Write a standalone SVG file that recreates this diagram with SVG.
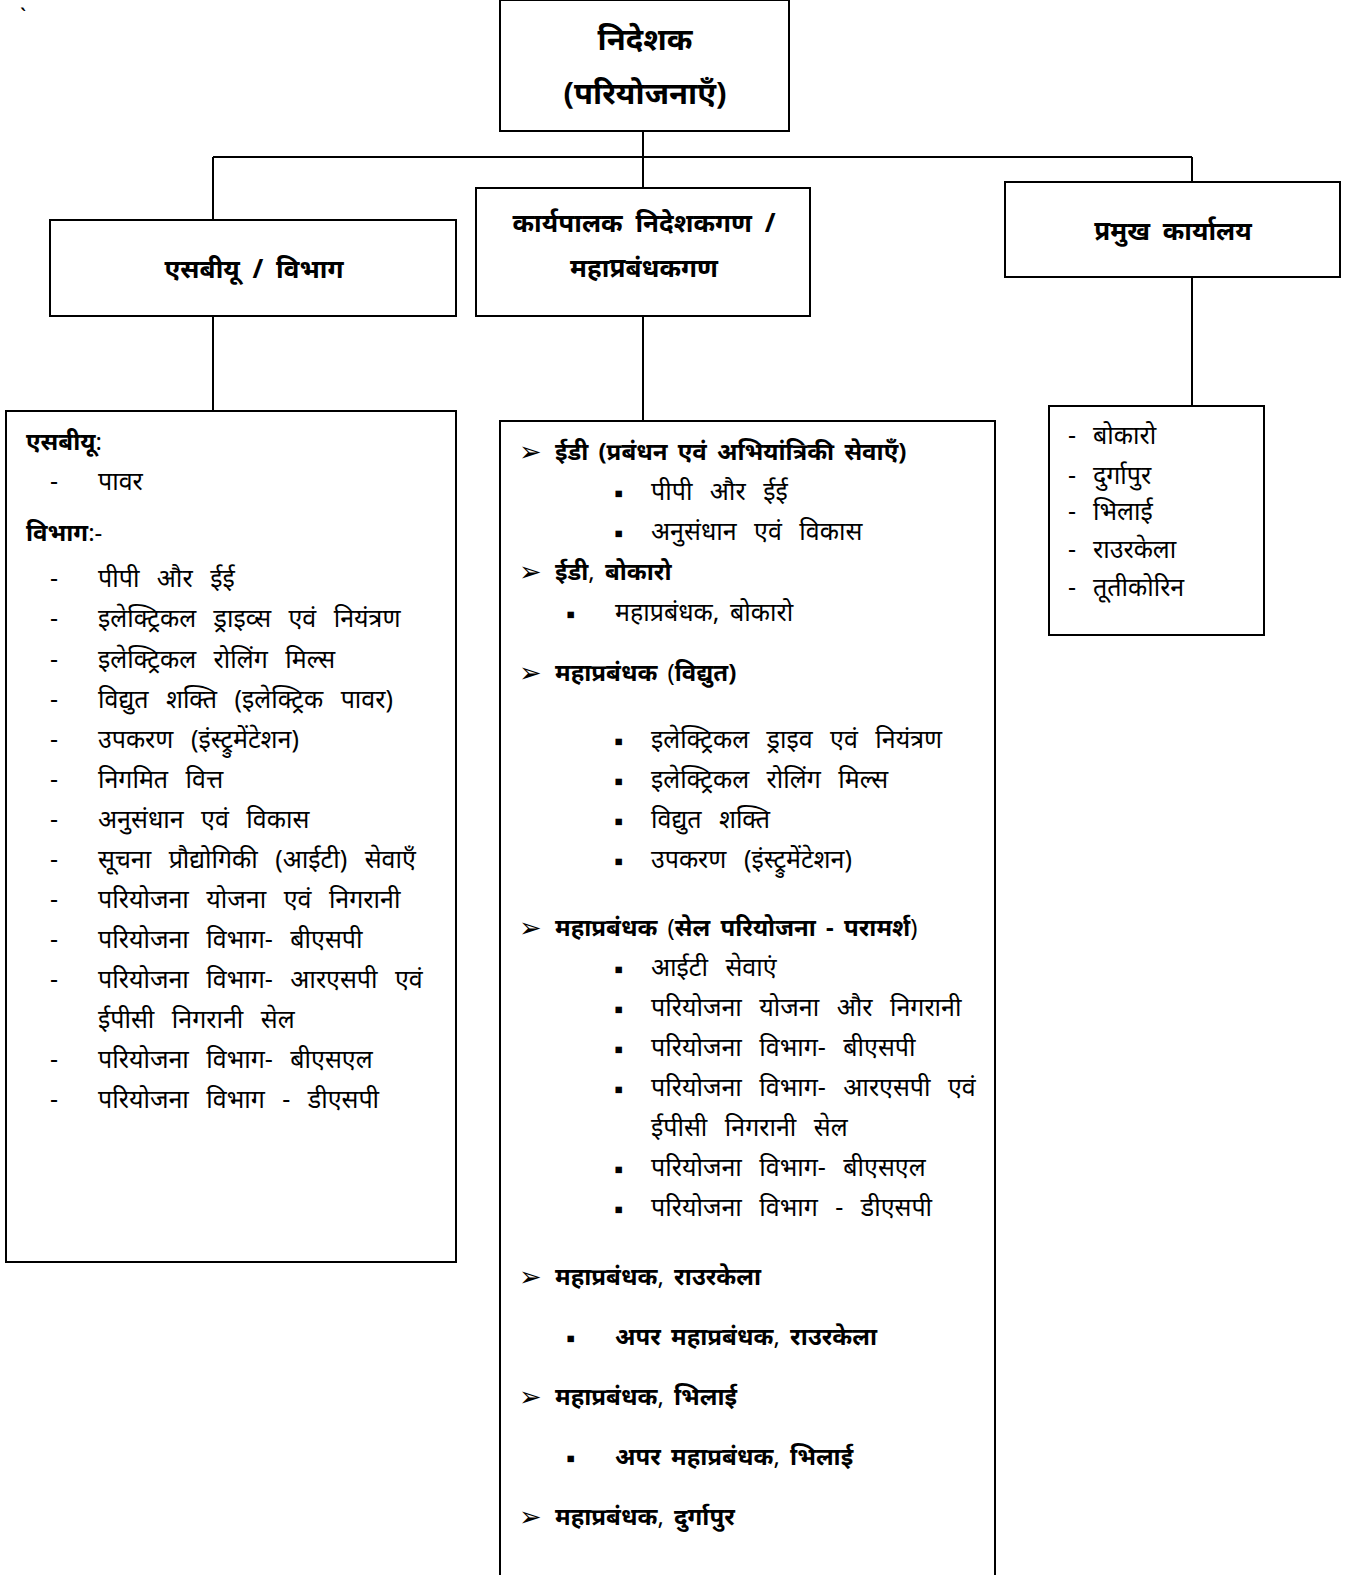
<svg xmlns="http://www.w3.org/2000/svg" width="1354" height="1575" viewBox="0 0 1354 1575">
<style>
.box{fill:#fff;stroke:#000;stroke-width:2}
.ln{fill:none;stroke:#000;stroke-width:2}
text{font-family:"Noto Sans","Noto Sans Devanagari","Lohit Devanagari",sans-serif;fill:#000}
.h{font-weight:bold;font-size:31px;text-anchor:middle}
.h2{font-weight:bold;font-size:26px;text-anchor:middle;word-spacing:6px}
.t{font-size:25px;word-spacing:11px}
.b{font-size:24px;font-weight:bold;word-spacing:4px}
.sym{font-family:"DejaVu Sans",sans-serif;font-size:27px}
.sq{font-family:"DejaVu Sans",sans-serif;font-size:26px}
</style>
<rect width="1354" height="1575" fill="#fff"/>
<text x="20" y="24" style="font-size:22px">`</text>
<g id="connectors">
<path class="ln" d="M643 131V188M213 157H1192M213 157V220M1192 157V182M213 316V411M643 316V421M1192 277V410"/>
</g>
<g id="director">
<rect class="box" x="500" y="0" width="289" height="131"/>
<text x="645" y="50" class="h">निदेशक</text>
<text x="645" y="104" class="h">(परियोजनाएँ)</text>
</g>
<g id="sbu">
<rect class="box" x="50" y="220" width="406" height="96"/>
<text x="254" y="278" class="h2">एसबीयू / विभाग</text>
</g>
<g id="ed">
<rect class="box" x="476" y="188" width="334" height="128"/>
<text x="644" y="232" class="h2">कार्यपालक निदेशकगण /</text>
<text x="644" y="277" class="h2">महाप्रबंधकगण</text>
</g>
<g id="ho">
<rect class="box" x="1005" y="182" width="335" height="95"/>
<text x="1173" y="240" class="h2">प्रमुख कार्यालय</text>
</g>
<g id="sbu-list">
<rect class="box" x="6" y="411" width="450" height="851"/>
<text x="26" y="450" class="b">एसबीयू<tspan font-weight="normal">:</tspan></text>
<text x="50" y="490" class="t">-</text><text x="98" y="490" class="t">पावर</text>
<text x="26" y="541" class="b">विभाग<tspan font-weight="normal">:-</tspan></text>
<g class="t">
<text x="50" y="587">-</text><text x="98" y="587">पीपी और ईई</text>
<text x="50" y="627">-</text><text x="98" y="627">इलेक्ट्रिकल ड्राइव्स एवं नियंत्रण</text>
<text x="50" y="668">-</text><text x="98" y="668">इलेक्ट्रिकल रोलिंग मिल्स</text>
<text x="50" y="708">-</text><text x="98" y="708">विद्युत शक्ति (इलेक्ट्रिक पावर)</text>
<text x="50" y="748">-</text><text x="98" y="748">उपकरण (इंस्ट्रुमेंटेशन)</text>
<text x="50" y="788">-</text><text x="98" y="788">निगमित वित्त</text>
<text x="50" y="828">-</text><text x="98" y="828">अनुसंधान एवं विकास</text>
<text x="50" y="868">-</text><text x="98" y="868">सूचना प्रौद्योगिकी (आईटी) सेवाएँ</text>
<text x="50" y="908">-</text><text x="98" y="908">परियोजना योजना एवं निगरानी</text>
<text x="50" y="948">-</text><text x="98" y="948">परियोजना विभाग- बीएसपी</text>
<text x="50" y="988">-</text><text x="98" y="988">परियोजना विभाग- आरएसपी एवं</text>
<text x="98" y="1028">ईपीसी निगरानी सेल</text>
<text x="50" y="1068">-</text><text x="98" y="1068">परियोजना विभाग- बीएसएल</text>
<text x="50" y="1108">-</text><text x="98" y="1108">परियोजना विभाग - डीएसपी</text>
</g>
</g>
<g id="ed-list">
<rect class="box" x="500" y="421" width="495" height="1170"/>
<g class="sym">
<text x="519" y="461">➢</text><text x="519" y="581">➢</text><text x="519" y="682">➢</text><text x="519" y="937">➢</text>
<text x="519" y="1286">➢</text><text x="519" y="1406">➢</text><text x="519" y="1526">➢</text>
</g>
<g class="sq">
<text x="614" y="502">▪</text><text x="614" y="542">▪</text><text x="566" y="623">▪</text>
<text x="614" y="750">▪</text><text x="614" y="790">▪</text><text x="614" y="830">▪</text><text x="614" y="870">▪</text>
<text x="614" y="978">▪</text><text x="614" y="1018">▪</text><text x="614" y="1058">▪</text><text x="614" y="1098">▪</text><text x="614" y="1178">▪</text><text x="614" y="1218">▪</text>
<text x="566" y="1347">▪</text><text x="566" y="1467">▪</text>
</g>
<text x="555" y="460" class="b">ईडी (प्रबंधन एवं अभियांत्रिकी सेवाएँ)</text>
<text x="651" y="500" class="t">पीपी और ईई</text>
<text x="651" y="540" class="t">अनुसंधान एवं विकास</text>
<text x="555" y="580" class="b">ईडी<tspan font-weight="normal">,</tspan> बोकारो</text>
<text x="615" y="621" class="t" style="word-spacing:4px">महाप्रबंधक, बोकारो</text>
<text x="555" y="681" class="b">महाप्रबंधक <tspan font-weight="normal">(</tspan>विद्युत)</text>
<text x="651" y="748" class="t">इलेक्ट्रिकल ड्राइव एवं नियंत्रण</text>
<text x="651" y="788" class="t">इलेक्ट्रिकल रोलिंग मिल्स</text>
<text x="651" y="828" class="t">विद्युत शक्ति</text>
<text x="651" y="868" class="t">उपकरण (इंस्ट्रुमेंटेशन)</text>
<text x="555" y="936" class="b">महाप्रबंधक <tspan font-weight="normal">(</tspan>सेल परियोजना - परामर्श<tspan font-weight="normal">)</tspan></text>
<text x="651" y="976" class="t">आईटी सेवाएं</text>
<text x="651" y="1016" class="t">परियोजना योजना और निगरानी</text>
<text x="651" y="1056" class="t">परियोजना विभाग- बीएसपी</text>
<text x="651" y="1096" class="t">परियोजना विभाग- आरएसपी एवं</text>
<text x="651" y="1136" class="t">ईपीसी निगरानी सेल</text>
<text x="651" y="1176" class="t">परियोजना विभाग- बीएसएल</text>
<text x="651" y="1216" class="t">परियोजना विभाग - डीएसपी</text>
<text x="555" y="1285" class="b">महाप्रबंधक<tspan font-weight="normal">,</tspan> राउरकेला</text>
<text x="615" y="1345" class="b">अपर महाप्रबंधक<tspan font-weight="normal">,</tspan> राउरकेला</text>
<text x="555" y="1405" class="b">महाप्रबंधक<tspan font-weight="normal">,</tspan> भिलाई</text>
<text x="615" y="1465" class="b">अपर महाप्रबंधक<tspan font-weight="normal">,</tspan> भिलाई</text>
<text x="555" y="1525" class="b">महाप्रबंधक<tspan font-weight="normal">,</tspan> दुर्गापुर</text>
</g>
<g id="ho-list">
<rect class="box" x="1049" y="406" width="215" height="229"/>
<g class="t">
<text x="1068" y="444">-</text><text x="1093" y="444">बोकारो</text>
<text x="1068" y="484">-</text><text x="1093" y="484">दुर्गापुर</text>
<text x="1068" y="520">-</text><text x="1093" y="520">भिलाई</text>
<text x="1068" y="558">-</text><text x="1093" y="558">राउरकेला</text>
<text x="1068" y="596">-</text><text x="1093" y="596">तूतीकोरिन</text>
</g>
</g>
</svg>
